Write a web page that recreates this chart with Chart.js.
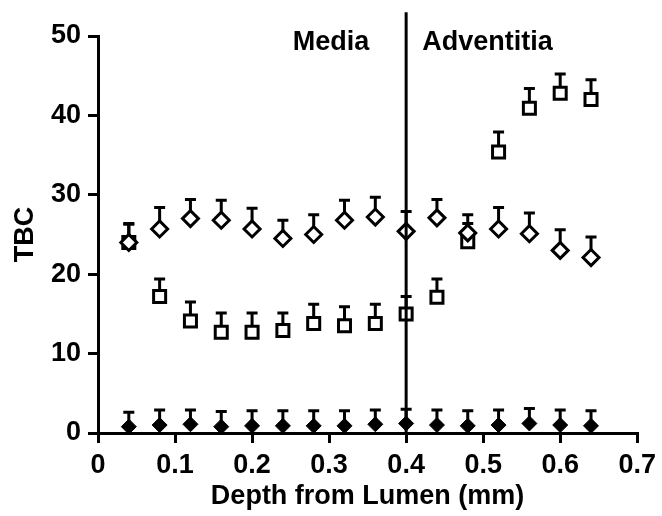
<!DOCTYPE html>
<html>
<head>
<meta charset="utf-8">
<script src="https://cdn.jsdelivr.net/npm/chart.js@4.4.1/dist/chart.umd.min.js"></script>
<style>
  html, body { margin: 0; padding: 0; background: #fff; }
  #wrap { width: 662px; height: 516px; }
</style>
</head>
<body>
<div id="wrap"><canvas id="tbc" width="662" height="516"></canvas></div>
<script>
// depth (mm) of each measurement
const depths = [0.04, 0.08, 0.12, 0.16, 0.20, 0.24, 0.28, 0.32, 0.36, 0.40, 0.44, 0.48, 0.52, 0.56, 0.60, 0.64];

// open squares
const squareVals = [24.0, 17.2, 14.1, 12.7, 12.7, 12.9, 13.8, 13.5, 13.8, 15.0, 17.1, 24.1, 35.4, 40.9, 42.8, 42.0];
const squareErr = [2.3, 2.2, 2.4, 2.4, 2.4, 2.2, 2.4, 2.4, 2.4, 2.2, 2.3, 2.3, 2.5, 2.5, 2.4, 2.5];

// open diamonds
const diamondVals = [24.0, 25.7, 27.0, 26.8, 25.7, 24.5, 25.0, 26.8, 27.2, 25.4, 27.1, 25.2, 25.7, 25.1, 23.0, 22.1];
const diamondErr = [2.4, 2.7, 2.4, 2.5, 2.6, 2.3, 2.5, 2.5, 2.5, 2.5, 2.3, 2.3, 2.7, 2.6, 2.6, 2.6];

// filled diamonds
const filledVals = [0.8, 1.0, 1.1, 0.8, 0.9, 0.9, 0.9, 0.9, 1.1, 1.2, 1.0, 0.9, 1.0, 1.2, 1.0, 0.9];
const filledErr = [1.8, 1.9, 1.8, 1.9, 1.9, 1.9, 1.9, 1.9, 1.8, 1.8, 1.9, 1.9, 1.9, 1.9, 1.9, 1.9];

const xTicks = [0, 0.1, 0.2, 0.3, 0.4, 0.5, 0.6, 0.7];
const boundary = 0.4;
const regionLabels = [
  { text: "Media", x: 0.352, y: 49.2, align: "right" },
  { text: "Adventitia", x: 0.421, y: 49.2, align: "left" },
];

const FONT = "'Liberation Sans', Arial, sans-serif";
const SIZE = 27;
const toPoints = (vals) => vals.map((v, i) => ({ x: depths[i], y: v }));

// upward-only error bars with caps
const errorBars = {
  id: "errorBars",
  beforeDatasetsDraw(chart) {
    const { ctx, scales } = chart;
    ctx.save();
    ctx.strokeStyle = "#000";
    ctx.lineWidth = 3;
    chart.data.datasets.forEach((ds) => {
      if (!ds.errUp) return;
      ds.data.forEach((p, i) => {
        const x = scales.x.getPixelForValue(p.x);
        const y0 = scales.y.getPixelForValue(p.y);
        const y1 = scales.y.getPixelForValue(p.y + ds.errUp[i]);
        ctx.beginPath();
        ctx.moveTo(x, y0);
        ctx.lineTo(x, y1);
        ctx.moveTo(x - 5.5, y1);
        ctx.lineTo(x + 5.5, y1);
        ctx.stroke();
      });
    });
    ctx.restore();
  },
};

const regionText = {
  id: "regionText",
  afterDraw(chart) {
    const { ctx, scales } = chart;
    ctx.save();
    ctx.fillStyle = "#000";
    ctx.font = "bold " + SIZE + "px " + FONT;
    ctx.textBaseline = "middle";
    regionLabels.forEach((l) => {
      ctx.textAlign = l.align;
      ctx.fillText(l.text, scales.x.getPixelForValue(l.x), scales.y.getPixelForValue(l.y));
    });
    ctx.restore();
  },
};

new Chart(document.getElementById("tbc"), {
  type: "scatter",
  data: {
    datasets: [
      {
        type: "line",
        data: [{ x: boundary, y: 0 }, { x: boundary, y: 53 }],
        borderColor: "#000",
        borderWidth: 3,
        pointRadius: 0,
        clip: false,
        order: 0,
      },
      {
        data: toPoints(filledVals),
        errUp: filledErr,
        pointStyle: "rectRot",
        pointRadius: 7.5,
        backgroundColor: "#000",
        borderColor: "#000",
        borderWidth: 1,
        order: 1,
      },
      {
        data: toPoints(diamondVals),
        errUp: diamondErr,
        pointStyle: "rectRot",
        pointRadius: 8,
        backgroundColor: "#fff",
        borderColor: "#000",
        borderWidth: 3,
        order: 2,
      },
      {
        data: toPoints(squareVals),
        errUp: squareErr,
        pointStyle: "rect",
        pointRadius: 8.5,
        backgroundColor: "#fff",
        borderColor: "#000",
        borderWidth: 3,
        order: 3,
      },
    ],
  },
  options: {
    responsive: false,
    animation: false,
    layout: { padding: { top: 36, right: 21, left: 0, bottom: 0 } },
    plugins: { legend: { display: false }, tooltip: { enabled: false } },
    scales: {
      x: {
        type: "linear",
        min: 0,
        max: 0.7,
        afterBuildTicks: (s) => { s.ticks = xTicks.map((v) => ({ value: v })); },
        afterFit: (s) => { s.height = 83; },
        border: { color: "#000", width: 3 },
        grid: { drawOnChartArea: false, color: "#000", lineWidth: 3, tickLength: 10 },
        ticks: {
          color: "#000",
          padding: 6,
          maxRotation: 0,
          font: { family: FONT, size: SIZE, weight: "bold" },
          callback: (v) => (v === 0 ? "0" : v.toFixed(1)),
        },
        title: {
          display: true,
          text: "Depth from Lumen (mm)",
          color: "#000",
          padding: { top: 0, bottom: 3 },
          font: { family: FONT, size: SIZE, weight: "bold" },
        },
      },
      y: {
        min: 0,
        max: 50,
        afterFit: (s) => { s.width = 98; },
        border: { color: "#000", width: 3 },
        grid: { drawOnChartArea: false, color: "#000", lineWidth: 3, tickLength: 10 },
        ticks: {
          stepSize: 10,
          color: "#000",
          padding: 7,
          font: { family: FONT, size: SIZE, weight: "bold" },
        },
        title: {
          display: true,
          text: "TBC",
          color: "#000",
          padding: { top: 9, bottom: 0 },
          font: { family: FONT, size: SIZE, weight: "bold" },
        },
      },
    },
  },
  plugins: [errorBars, regionText],
});
</script>
</body>
</html>
